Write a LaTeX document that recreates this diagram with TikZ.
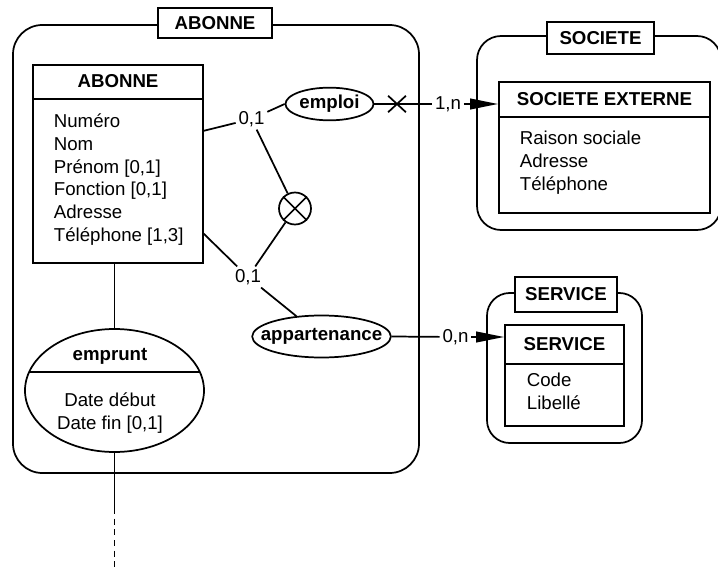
\documentclass[tikz,border=0pt]{standalone}
\usepackage{fontspec}
\setmainfont{Liberation Sans}
\usetikzlibrary{shapes.geometric,shapes.misc,arrows.meta,fit,calc}
\begin{document}
\begin{tikzpicture}[x=0.75pt,y=-0.75pt,line width=1.3pt,
  every node/.style={font=\fontsize{14}{17}\selectfont},
  bf/.style={font=\fontsize{14}{17}\selectfont\bfseries},
  box/.style={draw,inner sep=0pt},
  pkg/.style={draw,inner sep=0pt,rounded corners=#1},
  tab/.style={draw,fill=white,inner sep=0pt,font=\fontsize{14}{17}\selectfont\bfseries},
  card/.style={fill=white,inner sep=1.5pt},
  arr/.style={-{Triangle[length=21pt,width=8pt]}},
  attr/.style={align=left,anchor=base west,inner sep=0pt},
  rel/.style={draw,ellipse,inner sep=0pt}]
\useasboundingbox (0,0) rectangle (718,567);

% packages
\node[pkg=22pt,fit={(13,25) (419,473)}] (pA) {};
\node[pkg=18pt,fit={(477,36) (721,230)}] (pS) {};
\node[pkg=17pt,fit={(487,293) (642,443)}] (pV) {};
\node[tab,minimum width=85.5pt,minimum height=22.5pt] (tA) at (215,23) {ABONNE};
\node[tab,minimum width=80.25pt,minimum height=24pt] (tS) at (600.5,38) {SOCIETE};
\node[tab,minimum width=76.5pt,minimum height=26.25pt] (tV) at (566,294.5) {SERVICE};

% ABONNE entity
\node[box,fit={(33,65) (203,263)}] (ab) {};
\draw (33,99) -- (203,99);
\node[bf,anchor=base] (abT) at (118,87.3) {ABONNE};
\node[attr] (abA) at (53,241) {Numéro\\Nom\\Prénom [0,1]\\Fonction [0,1]\\Adresse\\Téléphone [1,3]};

% SOCIETE EXTERNE entity
\node[box,fit={(499,82) (710,213)}] (se) {};
\draw (499,117) -- (710,117);
\node[bf,anchor=base] (seT) at (604.5,106) {SOCIETE EXTERNE};
\node[attr] (seA) at (519,190.3) {Raison sociale\\Adresse\\Téléphone};

% SERVICE entity
\node[box,fit={(505,325) (624,426)}] (sv) {};
\draw (505,364) -- (624,364);
\node[bf,anchor=base] (svT) at (564.5,350) {SERVICE};
\node[attr] (svA) at (526,409.4) {Code\\Libellé};

% relations
\node[rel,minimum width=66pt,minimum height=24.5pt] (emp1) at (329.5,104) {};
\node[bf] (emp1T) at (emp1) {emploi};
\node[rel,minimum width=104pt,minimum height=31.5pt] (app) at (321.5,336.5) {};
\node[bf] (appT) at (app) {appartenance};
\node[rel,minimum width=134.25pt,minimum height=92.25pt] (emp) at (114.5,390.5) {};
\draw (29.2,372) -- (199.8,372);
\node[bf,anchor=base] (empT) at (110,360) {emprunt};
\node[align=center,anchor=base,inner sep=0pt] (empA) at (110,429.4) {Date début\\Date fin [0,1]};

% exclusion circle and cross
\node[draw,circle,minimum size=24pt,inner sep=0pt] (cx) at (295,208.5) {};
\draw (cx.45) -- (cx.225) (cx.135) -- (cx.315);
\node[draw,cross out,minimum width=12pt,minimum height=11pt,inner sep=0pt] (xm) at (397,104) {};

% cardinalities
\node[card] (la) at (251.5,119) {0,1};
\node[card] (lb) at (248,277) {0,1};
\node[card] (l1n) at (448,104) {1,n};
\node[card] (l0n) at (455.5,337) {0,n};

% connectors
\coordinate (abR1) at (203,131);
\coordinate (abR2) at (203,233);
\draw (abR1) -- (la);
\draw (la) -- (emp1.west);
\draw (la) -- (cx);
\draw (cx) -- (lb);
\draw (abR2) -- (lb);
\draw (lb) -- (app);
\draw (emp1.east) -- (l1n);
\draw[arr] (l1n) -- (se.west |- l1n);
\draw (app.east) -- (l0n);
\draw[arr] (l0n) -- (sv.west |- l0n);
\draw (ab.south -| emp) -- (emp.north);
\coordinate (t1) at (114.5,508);
\coordinate (t2) at (114.5,567);
\draw (emp.south) -- (t1);
\draw[dash pattern=on 4.5pt off 3.5pt] (t1) -- (t2);
\end{tikzpicture}
\end{document}
